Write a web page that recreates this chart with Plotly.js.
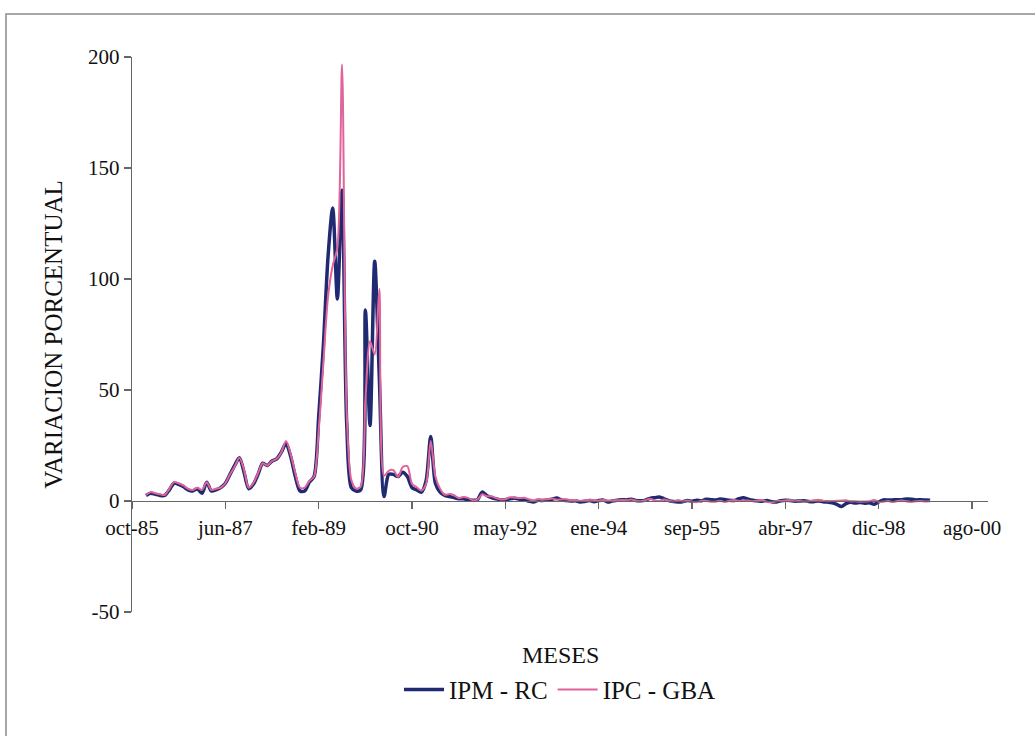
<!DOCTYPE html>
<html>
<head>
<meta charset="utf-8">
<script src="https://cdn.plot.ly/plotly-3.0.1.min.js"></script>
<style>
html,body{margin:0;padding:0;background:#ffffff;}
#chart{width:1035px;height:736px;}
</style>
</head>
<body>
<div id="chart"></div>
<script>
// Month index 0 = oct-85; series start at index 3 (ene-86)
var startIndex = 3;

var tickPositions = [0, 20, 40, 60, 80, 100, 120, 140, 160, 180];
var tickLabels = ['oct-85', 'jun-87', 'feb-89', 'oct-90', 'may-92', 'ene-94', 'sep-95', 'abr-97', 'dic-98', 'ago-00'];
var yTickValues = [-50, 0, 50, 100, 150, 200];
var yTickLabels = ['-50', '0', '50', '100', '150', '200'];

var ipmRC = [
  2.5, 3.5, 3, 2.5, 2.5, 5, 8, 7.5, 6.5, 5, 4.5, 5.5,
  3.5, 8.5, 4.5, 5, 6, 8, 12, 16, 19.5, 13, 5.5, 7.5,
  12, 17, 16, 18, 19, 22, 26, 20, 11, 4.5, 4.5, 8.5,
  11, 38, 70, 110, 132, 91, 140, 35, 6, 4.5, 5, 86,
  34, 108, 55, 2, 12, 12, 11, 13, 11, 6, 5, 4,
  9, 29, 8, 4, 2.5, 2, 1.5, 1, 1, 0.5, 0.3, 0.5,
  4, 2.5, 1.5, 1, 0.5, 0.6, 1, 1.2, 0.8, 0.5, 0, -0.5,
  0.3, 0.2, 0.5, 0.8, 1.3, 0.5, 0.2, 0.0, 0.1, -0.4, -0.2, 0.2,
  -0.3, 0.2, 0.4, -0.5, 0.1, 0.3, 0.6, 0.5, 0.8, 0.2, 0.1, 0.4,
  1.2, 1.5, 1.8, 1.0, 0.2, -0.2, -0.4, -0.3, 0.2, -0.1, 0.3, 0.1,
  0.8, 0.6, 0.4, 0.9, 0.7, 0.3, 0.2, 1.0, 1.5, 0.8, 0.3, 0.1,
  -0.1, 0.2, -0.3, -0.4, 0.1, 0.3, 0.2, -0.1, 0.0, 0.1, -0.2, -0.3,
  0.0, -0.3, -0.5, -0.8, -1.5, -2.5, -1.2, -0.6, -0.9, -0.7, -1.0, -0.8,
  -1.5, -0.4, 0.5, 0.4, 0.5, 0.6, 0.6, 0.9, 0.8, 0.5, 0.6, 0.4, 0.3
];

var ipcGBA = [
  2.7, 4, 3.5, 3, 2.7, 5.5, 8.5, 8, 7, 5.5, 5, 6,
  5, 8.5, 5, 5.5, 6, 8, 12, 15.5, 19.5, 14, 6, 8,
  12.5, 17, 16, 18, 19, 22, 27, 21, 12.5, 6, 6, 9,
  11, 32, 62, 92, 106, 114, 196.6, 40, 9.4, 5.6, 6.5, 45,
  72, 66, 95.5, 11.4, 13.6, 13.9, 10.8, 15.3, 15.7, 7.7, 6.2, 4.7,
  7.7, 27, 11, 5.5, 2.8, 3.1, 2.6, 1.3, 1.8, 1.4, 0.4, 0.6,
  3.0, 2.2, 2.1, 1.3, 0.7, 0.8, 1.7, 1.5, 1.3, 1.5, 0.8, 0.3,
  0.8, 0.6, 0.8, 1.1, 0.6, 0.7, 0.8, 0.4, 0.4, 0.0, 0.3, 0.6,
  0.5, 0.1, 0.5, 0.2, 0.3, 0.3, 0.5, 0.3, 0.7, 0.1, -0.1, 0.4,
  1.0, 0.2, 0.0, 0.7, 0.1, -0.2, 0.4, -0.2, 0.2, -0.3, -0.5, 0.1,
  0.1, -0.3, -0.3, 0.1, -0.4, 0.1, 0.5, 0.0, 0.2, 0.2, -0.1, 0.2,
  0.5, -0.3, -0.6, -0.1, 0.0, 0.2, 0.5, -0.1, 0.0, -0.2, -0.1, 0.3,
  0.6, 0.2, -0.1, 0.0, 0.1, 0.2, 0.3, -0.2, -0.1, -0.3, -0.2, -0.1,
  0.5, -0.4, -0.3, 0.0, -0.5, 0.0, 0.2, -0.2, -0.4, -0.1, 0.0, -0.2, -0.1
];

var xIdx = [];
for (var i = 0; i < ipcGBA.length; i++) xIdx.push(startIndex + i);

var serif = 'Liberation Serif, Times New Roman, serif';

var traces = [
  {
    x: xIdx, y: ipmRC, type: 'scatter', mode: 'lines', name: 'IPM - RC',
    line: {color: '#1f2a72', width: 3.5, shape: 'spline', smoothing: 0.8}
  },
  {
    x: xIdx, y: ipcGBA, type: 'scatter', mode: 'lines', name: 'IPC - GBA',
    line: {color: '#e0639a', width: 2, shape: 'spline', smoothing: 0.8}
  }
];

var layout = {
  width: 1035, height: 736,
  paper_bgcolor: '#ffffff', plot_bgcolor: 'rgba(0,0,0,0)',
  font: {family: serif, size: 20, color: '#111111'},
  margin: {l: 132, r: 47, t: 57, b: 124},
  showlegend: true,
  legend: {orientation: 'h', x: 0.5, xanchor: 'center', y: -0.14, yanchor: 'middle',
           font: {family: serif, size: 25, color: '#111111'}, bgcolor: 'rgba(0,0,0,0)',
           itemwidth: 40},
  xaxis: {
    range: [0, 183.4], anchor: 'free', position: 0.2,
    tickmode: 'array', tickvals: tickPositions, ticktext: tickLabels,
    showline: true, linecolor: '#666666', linewidth: 1.3,
    ticks: 'outside', ticklen: 7, tickcolor: '#666666', tickwidth: 1.3,
    showgrid: false, zeroline: false,
    tickfont: {family: serif, size: 21, color: '#111111'}
  },
  yaxis: {
    range: [-50, 200], tickmode: 'array', tickvals: yTickValues, ticktext: yTickLabels,
    showline: true, linecolor: '#666666', linewidth: 1.3,
    ticks: 'outside', ticklen: 7, tickcolor: '#666666', tickwidth: 1.3,
    showgrid: false, zeroline: false,
    tickfont: {family: serif, size: 21, color: '#111111'},
    title: {text: 'VARIACION PORCENTUAL', font: {family: serif, size: 25, color: '#111111'}, standoff: 18}
  },
  annotations: [
    {text: 'MESES', xref: 'paper', yref: 'paper', x: 0.5, y: (612 - 655) / 555,
     xanchor: 'center', yanchor: 'middle', showarrow: false,
     font: {family: serif, size: 24, color: '#111111'}}
  ],
  shapes: [
    {type: 'rect', xref: 'paper', yref: 'paper',
     x0: (6 - 132) / 856, x1: (1045 - 132) / 856,
     y0: (612 - 750) / 555, y1: (612 - 14) / 555,
     line: {color: '#8a8a8a', width: 1.5}, fillcolor: 'rgba(0,0,0,0)', layer: 'below'}
  ]
};

Plotly.newPlot('chart', traces, layout, {displayModeBar: false, staticPlot: true});
</script>
</body>
</html>
